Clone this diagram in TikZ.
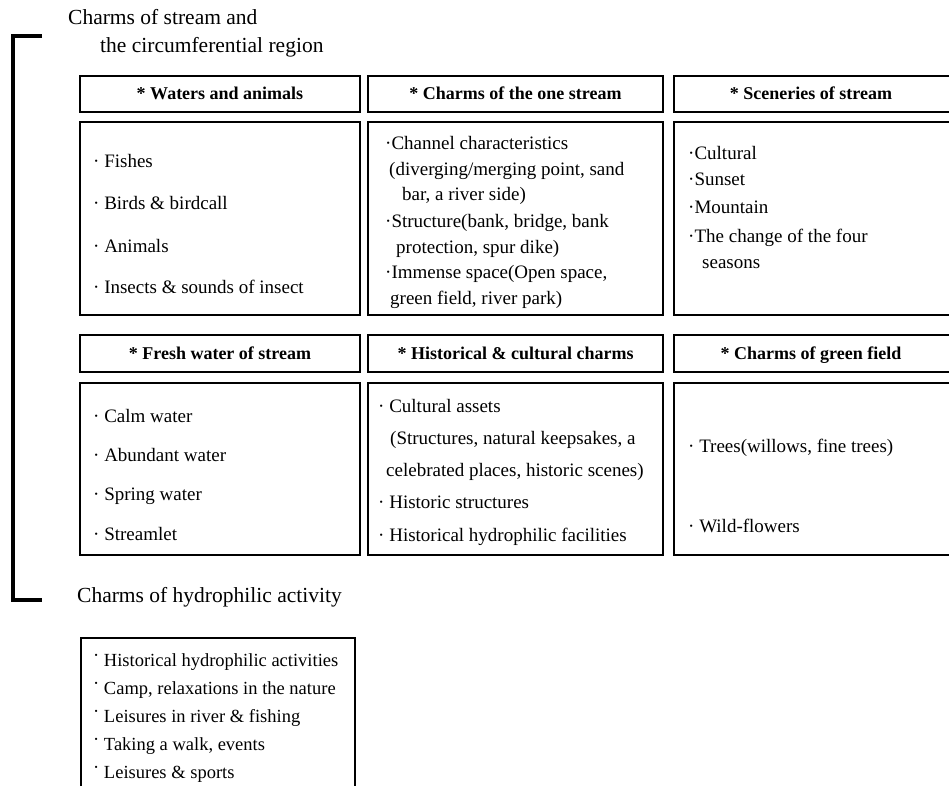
\documentclass[tikz,border=0pt]{standalone}
\usepackage{fontspec}
\setmainfont{Liberation Serif}
\begin{document}
\begin{tikzpicture}[x=1pt,y=-1pt,
  box/.style={draw, line width=1.5pt, rectangle, inner sep=0pt},
  hdr/.style={anchor=base, inner sep=0pt, font=\fontsize{18}{22}\selectfont\bfseries},
  txt/.style={anchor=base west, inner sep=0pt, font=\fontsize{19}{23}\selectfont},
  act/.style={anchor=base west, inner sep=0pt, font=\fontsize{18.5}{22}\selectfont},
  ttl/.style={anchor=base west, inner sep=0pt, font=\fontsize{21.5}{26}\selectfont},
  frame/.style={line width=1.5pt},
  brk/.style={line width=4pt, line join=miter},
]
\useasboundingbox (0,0) rectangle (949,786);

% titles
\node[ttl] (t1) at (68,25) {Charms of stream and};
\node[ttl] (t2) at (100,53) {the circumferential region};
\node[ttl] (t3) at (77,602) {Charms of hydrophilic activity};

% bracket
\coordinate (bA) at (42,36.5);
\coordinate (bB) at (13,36.5);
\coordinate (bC) at (13,600);
\coordinate (bD) at (42,600);
\draw[brk] (bA) -- (bB) -- (bC) -- (bD);

% row 1 headers
\node[box, minimum width=280, minimum height=36] (h1) at (220,94) {};
\node[hdr] (h1t) at (220,100) {* Waters and animals};
\node[box, minimum width=295, minimum height=36] (h2) at (515.5,94) {};
\node[hdr] (h2t) at (515.5,100) {* Charms of the one stream};
\draw[frame] (949,76) -| (674,112) -- (949,112);
\node[hdr] (h3) at (811,100) {* Sceneries of stream};

% row 1 content
\node[box, minimum width=280, minimum height=193] (c1) at (220,218.5) {};
\node[box, minimum width=295, minimum height=193] (c2) at (515.5,218.5) {};
\draw[frame] (949,122) -| (674,315) -- (949,315);

\node[txt] (a1) at (93,168) {· Fishes};
\node[txt] (a2) at (93,210) {· Birds \& birdcall};
\node[txt] (a3) at (93,252) {· Animals};
\node[txt] (a4) at (93,293) {· Insects \& sounds of insect};

\node[txt] (b1) at (385,150) {·Channel characteristics};
\node[txt] (b2) at (389,175.5) {(diverging/merging point, sand};
\node[txt] (b3) at (402,201) {bar, a river side)};
\node[txt] (b4) at (385,227) {·Structure(bank, bridge, bank};
\node[txt] (b5) at (396,253) {protection, spur dike)};
\node[txt] (b6) at (385,278) {·Immense space(Open space,};
\node[txt] (b7) at (390,304) {green field, river park)};

\node[txt] (d1) at (688,160) {·Cultural};
\node[txt] (d2) at (688,186) {·Sunset};
\node[txt] (d3) at (688,214) {·Mountain};
\node[txt] (d4) at (688,242) {·The change of the four};
\node[txt] (d5) at (702,268) {seasons};

% row 2 headers
\node[box, minimum width=280, minimum height=37] (h4) at (220,353.5) {};
\node[hdr] (h4t) at (220,359.5) {* Fresh water of stream};
\node[box, minimum width=295, minimum height=37] (h5) at (515.5,353.5) {};
\node[hdr] (h5t) at (515.5,359.5) {* Historical \& cultural charms};
\draw[frame] (949,335) -| (674,372) -- (949,372);
\node[hdr] (h6) at (811,359.5) {* Charms of green field};

% row 2 content
\node[box, minimum width=280, minimum height=172] (c4) at (220,469) {};
\node[box, minimum width=295, minimum height=172] (c5) at (515.5,469) {};
\draw[frame] (949,383) -| (674,555) -- (949,555);

\node[txt] (e1) at (93,422) {· Calm water};
\node[txt] (e2) at (93,461) {· Abundant water};
\node[txt] (e3) at (93,500) {· Spring water};
\node[txt] (e4) at (93,540) {· Streamlet};

\node[txt] (f1) at (378,412) {· Cultural assets};
\node[txt] (f2) at (390,444) {(Structures, natural keepsakes, a};
\node[txt] (f3) at (386,476) {celebrated places, historic scenes)};
\node[txt] (f4) at (378,508) {· Historic structures};
\node[txt] (f5) at (378,541) {· Historical hydrophilic facilities};

\node[txt] (g1) at (688,452) {· Trees(willows, fine trees)};
\node[txt] (g2) at (688,532) {· Wild-flowers};

% bottom box
\draw[frame] (81,786) |- (355,638) -- (355,786);
\node[act] (k1) at (93,666) {\raisebox{5pt}{·} Historical hydrophilic activities};
\node[act] (k2) at (93,694) {\raisebox{5pt}{·} Camp, relaxations in the nature};
\node[act] (k3) at (93,722) {\raisebox{5pt}{·} Leisures in river \& fishing};
\node[act] (k4) at (93,750) {\raisebox{5pt}{·} Taking a walk, events};
\node[act] (k5) at (93,778) {\raisebox{5pt}{·} Leisures \& sports};
\end{tikzpicture}
\end{document}
